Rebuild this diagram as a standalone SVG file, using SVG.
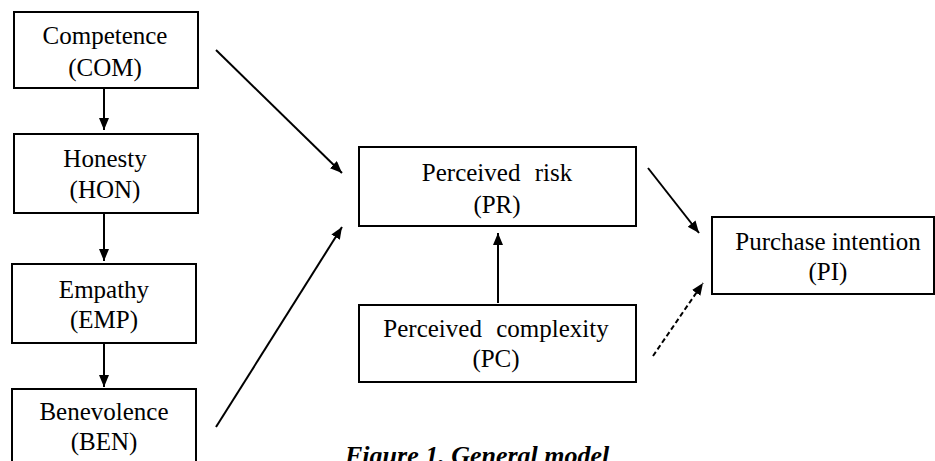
<svg xmlns="http://www.w3.org/2000/svg" width="935" height="461" viewBox="0 0 935 461">
<style>
.box{fill:#fff;stroke:#000;stroke-width:2}
.t{font-family:"Liberation Serif","Times New Roman",serif;font-size:25px;fill:#000;text-anchor:middle}
.ws{word-spacing:8px}
.c{stroke:#000;stroke-width:2;fill:none}
.cap{font-family:"Liberation Serif","Times New Roman",serif;font-size:26px;font-weight:bold;font-style:italic;fill:#000}
</style>
<defs>
<marker id="ah" markerUnits="userSpaceOnUse" markerWidth="13" markerHeight="11" refX="12" refY="5" orient="auto">
<path d="M0,0 L12,5 L0,10 z" fill="#000"/>
</marker>
</defs>
<rect width="935" height="461" fill="#fff"/>
<g id="connectors">
<line class="c" x1="104" y1="88" x2="104" y2="130" marker-end="url(#ah)"/>
<line class="c" x1="104" y1="213" x2="104" y2="261" marker-end="url(#ah)"/>
<line class="c" x1="104" y1="343" x2="104" y2="387" marker-end="url(#ah)"/>
<line class="c" x1="216" y1="50" x2="342" y2="173" marker-end="url(#ah)"/>
<line class="c" x1="216" y1="427" x2="342" y2="227" marker-end="url(#ah)"/>
<line class="c" x1="498" y1="303" x2="498" y2="233" marker-end="url(#ah)"/>
<line class="c" x1="648" y1="168" x2="699" y2="233" marker-end="url(#ah)"/>
<line class="c" x1="653" y1="356" x2="703" y2="283" stroke-dasharray="5,3" marker-end="url(#ah)"/>
</g>
<g id="COM">
<rect class="box" x="14" y="12" width="184" height="76"/>
<text class="t" x="105" y="44">Competence</text>
<text class="t" x="105" y="76">(COM)</text>
</g>
<g id="HON">
<rect class="box" x="14" y="134" width="184" height="79"/>
<text class="t" x="105" y="167">Honesty</text>
<text class="t" x="105" y="198">(HON)</text>
</g>
<g id="EMP">
<rect class="box" x="12" y="264" width="184" height="79"/>
<text class="t" x="104" y="298">Empathy</text>
<text class="t" x="104" y="328">(EMP)</text>
</g>
<g id="BEN">
<rect class="box" x="12" y="389" width="184" height="90"/>
<text class="t" x="104" y="420">Benevolence</text>
<text class="t" x="104" y="450">(BEN)</text>
</g>
<g id="PR">
<rect class="box" x="359" y="147" width="277" height="79"/>
<text class="t ws" x="497" y="181">Perceived risk</text>
<text class="t" x="497" y="213">(PR)</text>
</g>
<g id="PC">
<rect class="box" x="359" y="305" width="277" height="77"/>
<text class="t ws" x="496" y="337">Perceived complexity</text>
<text class="t" x="496" y="367">(PC)</text>
</g>
<g id="PI">
<rect class="box" x="712" y="217" width="222" height="77"/>
<text class="t" x="828" y="250">Purchase intention</text>
<text class="t" x="828" y="280">(PI)</text>
</g>
<text class="cap" x="345" y="464">Figure 1. General model</text>
</svg>
